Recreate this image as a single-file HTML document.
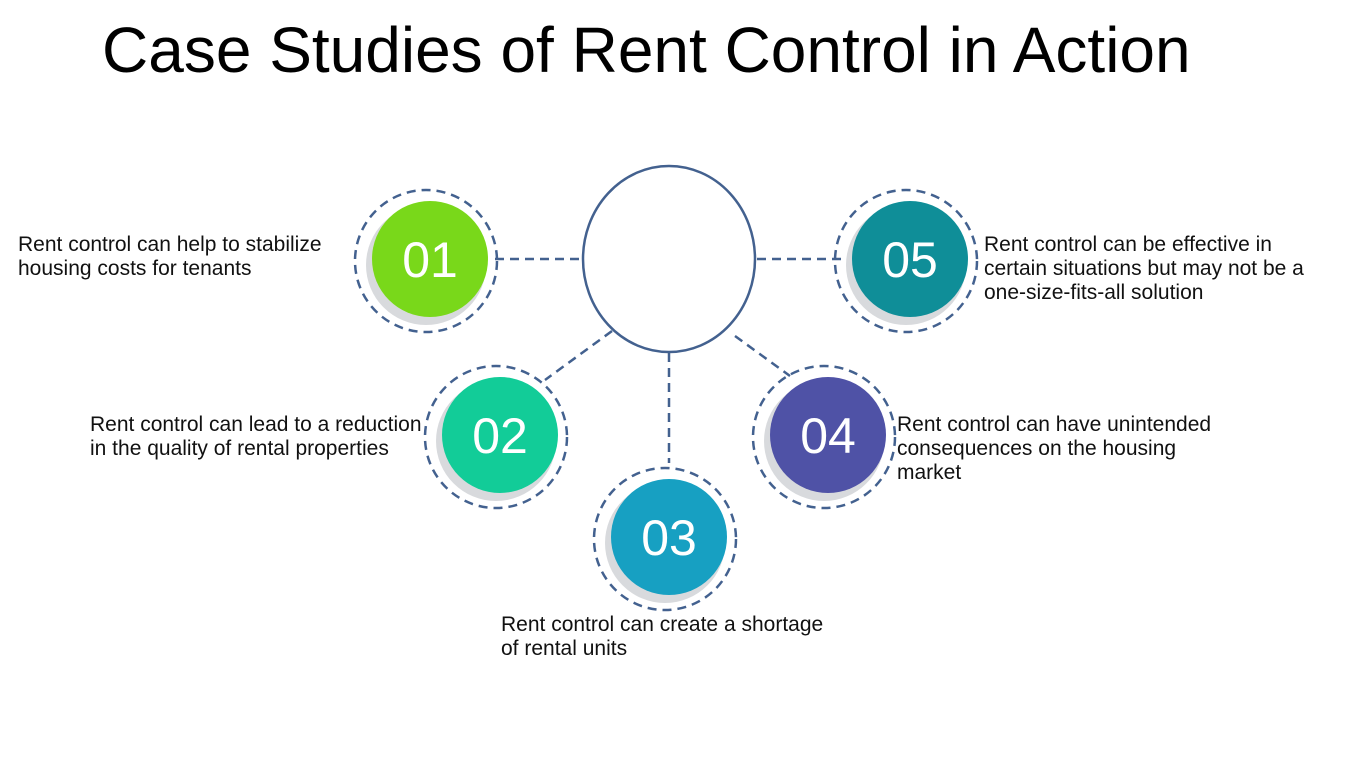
<!DOCTYPE html>
<html><head><meta charset="utf-8"><style>
html,body{margin:0;padding:0;background:#fff;width:1350px;height:769px;overflow:hidden}
svg{display:block}
text{font-family:"Liberation Sans",sans-serif}
</style></head><body>
<svg width="1350" height="769" viewBox="0 0 1350 769">
<text x="102" y="72" font-size="64" fill="#000">Case Studies of Rent Control in Action</text>
<g stroke="#43618f" stroke-width="2.5" stroke-dasharray="9,6" fill="none">
<line x1="495" y1="259" x2="581" y2="259"/>
<line x1="757" y1="259" x2="845" y2="259"/>
<line x1="612" y1="331" x2="545" y2="380"/>
<line x1="669" y1="353" x2="669" y2="463"/>
<line x1="735" y1="336" x2="790" y2="376"/>
</g>
<ellipse cx="669" cy="259" rx="86" ry="93" fill="#fff" stroke="#43618f" stroke-width="2.5"/>
<g id="nodes"></g>
<g font-size="21" fill="#111">
<text x="18" y="251"><tspan x="18">Rent control can help to stabilize</tspan><tspan x="18" dy="24">housing costs for tenants</tspan></text>
<text x="90" y="431"><tspan x="90">Rent control can lead to a reduction</tspan><tspan x="90" dy="24">in the quality of rental properties</tspan></text>
<text x="501" y="631"><tspan x="501">Rent control can create a shortage</tspan><tspan x="501" dy="24">of rental units</tspan></text>
<text x="897" y="431"><tspan x="897">Rent control can have unintended</tspan><tspan x="897" dy="24">consequences on the housing</tspan><tspan x="897" dy="24">market</tspan></text>
<text x="984" y="251"><tspan x="984">Rent control can be effective in</tspan><tspan x="984" dy="24">certain situations but may not be a</tspan><tspan x="984" dy="24">one-size-fits-all solution</tspan></text>
</g>
</svg>
<script>
const nodeLabels=["01","02","03","04","05"];
const nodeColors=["#79d81a","#12cc98","#17a0c2","#4f52a6","#0f8e98"];
const nodeX=[430,500,669,828,910];
const nodeY=[259,435,537,435,259];
const g=document.getElementById('nodes');
const NS="http://www.w3.org/2000/svg";
for(let i=0;i<nodeLabels.length;i++){
  const grp=document.createElementNS(NS,'g');
  
  
  const sh=document.createElementNS(NS,'circle');
  sh.setAttribute('cx',nodeX[i]-4);sh.setAttribute('cy',nodeY[i]+6);sh.setAttribute('r',60);sh.setAttribute('fill','#d8dadd');
  
  
  grp.appendChild(sh);
  const c=document.createElementNS(NS,'circle');
  c.setAttribute('cx',nodeX[i]);c.setAttribute('cy',nodeY[i]);c.setAttribute('r',58);c.setAttribute('fill',nodeColors[i]);
  
  
  grp.appendChild(c);
  const r=document.createElementNS(NS,'circle');
  r.setAttribute('cx',nodeX[i]-4);r.setAttribute('cy',nodeY[i]+2);r.setAttribute('r',71);r.setAttribute('fill','none');
  r.setAttribute('stroke','#43618f');r.setAttribute('stroke-width','2.5');r.setAttribute('stroke-dasharray','9,6');
  
  
  grp.appendChild(r);
  const t=document.createElementNS(NS,'text');
  t.setAttribute('x',nodeX[i]);t.setAttribute('y',nodeY[i]+18);t.setAttribute('text-anchor','middle');
  t.setAttribute('font-size','50');t.setAttribute('fill','#fff');
  
  
  t.textContent=nodeLabels[i];
  grp.appendChild(t);
  g.appendChild(grp);
}
</script>
</body></html>
